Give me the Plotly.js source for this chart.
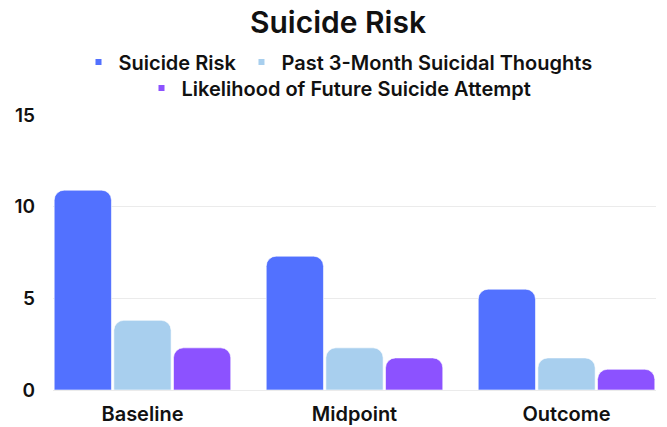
<!DOCTYPE html>
<html>
<head>
<meta charset="utf-8">
<script src="https://cdn.plot.ly/plotly-3.0.1.min.js"></script>
<style>
  html, body { margin: 0; padding: 0; background: #ffffff; }
  #chart { width: 667px; height: 427px; }
</style>
</head>
<body>
<div id="chart"></div>
<script>
// Time points of the study
const categories = ["Baseline", "Midpoint", "Outcome"];

// Mean scores per measure
const suicideRisk = [10.9, 7.3, 5.5];
const pastThoughts = [3.8, 2.3, 1.75];
const futureAttempt = [2.3, 1.75, 1.13];

const seriesNames = [
  "Suicide Risk",
  "Past 3-Month Suicidal Thoughts",
  "Likelihood of Future Suicide Attempt"
];
const seriesColors = ["#5271ff", "#a8cfee", "#8c52ff"];
const yTicks = [0, 5, 10, 15];

const FONT = "Inter, 'Noto Sans', sans-serif";

function barTrace(name, values, color) {
  return {
    type: "bar",
    name: name,
    x: categories,
    y: values,
    marker: { color: color, line: { color: "rgba(255,255,255,0.6)", width: 1 } },
    showlegend: false,
    hoverinfo: "x+y+name"
  };
}

// Small square legend keys
function keyTrace(name, color, legendId) {
  return {
    type: "scatter",
    mode: "markers",
    name: name,
    x: [null],
    y: [null],
    marker: { symbol: "square", size: 6, color: color },
    legend: legendId,
    showlegend: true
  };
}

const data = [
  barTrace(seriesNames[0], suicideRisk, seriesColors[0]),
  barTrace(seriesNames[1], pastThoughts, seriesColors[1]),
  barTrace(seriesNames[2], futureAttempt, seriesColors[2]),
  keyTrace(seriesNames[0], seriesColors[0], "legend"),
  keyTrace(seriesNames[1], seriesColors[1], "legend"),
  keyTrace(seriesNames[2], seriesColors[2], "legend2")
];

const legendBase = {
  orientation: "h",
  xref: "container",
  yref: "container",
  xanchor: "center",
  yanchor: "middle",
  itemwidth: 30,
  tracegroupgap: 0,
  font: { family: FONT, size: 20, color: "#111111", weight: 600 },
  bgcolor: "rgba(0,0,0,0)"
};

const layout = {
  width: 667,
  height: 427,
  margin: { l: 53, r: 11, t: 115, b: 37, pad: 0 },
  paper_bgcolor: "#ffffff",
  plot_bgcolor: "#ffffff",
  title: {
    text: "Suicide Risk",
    x: 338 / 667,
    xref: "container",
    xanchor: "center",
    y: 1 - 22 / 427,
    yref: "container",
    yanchor: "middle",
    font: { family: FONT, size: 30, color: "#111111", weight: 600 }
  },
  barmode: "group",
  bargap: 0.156,
  bargroupgap: 0.04,
  barcornerradius: 10,
  xaxis: {
    type: "category",
    range: [-0.422, 2.422],
    showgrid: false,
    zeroline: false,
    showline: false,
    ticks: "",
    ticklabelstandoff: 10,
    tickfont: { family: FONT, size: 20, color: "#111111", weight: 600 },
    fixedrange: true
  },
  yaxis: {
    range: [0, 15],
    tickvals: yTicks,
    ticktext: yTicks.map(String),
    showgrid: true,
    gridcolor: "#ebebeb",
    gridwidth: 1,
    zeroline: true,
    zerolinecolor: "#ebebeb",
    zerolinewidth: 1,
    showline: false,
    ticks: "",
    ticklabelstandoff: 17,
    tickfont: { family: FONT, size: 19, color: "#111111", weight: 600 },
    fixedrange: true
  },
  legend: Object.assign({}, legendBase, { x: 338 / 667, y: 1 - 62 / 427 }),
  legend2: Object.assign({}, legendBase, { x: 339 / 667, y: 1 - 88 / 427 }),
  showlegend: true
};

Plotly.newPlot("chart", data, layout, { displayModeBar: false, staticPlot: true });
</script>
</body>
</html>
